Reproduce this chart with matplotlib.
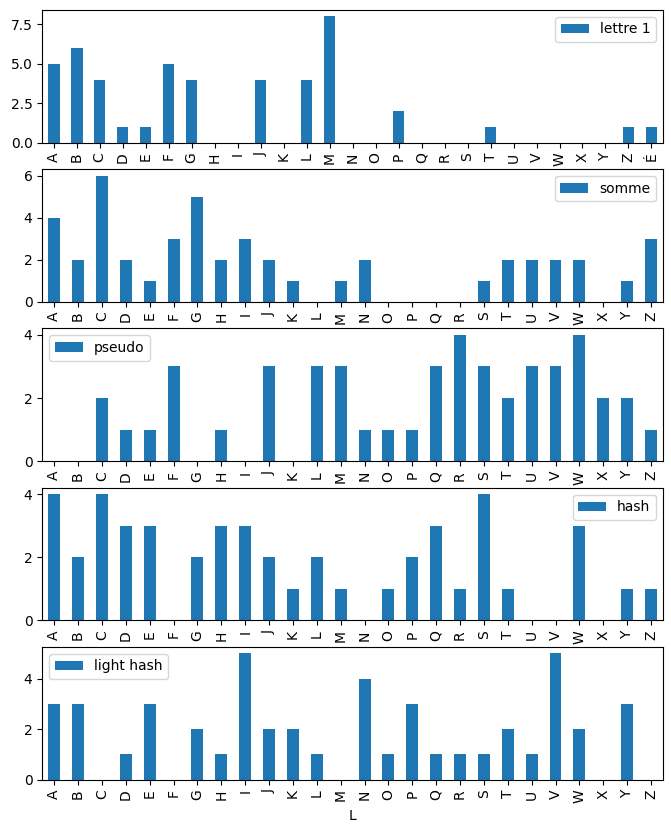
import matplotlib
matplotlib.use("Agg")
import matplotlib.pyplot as plt
import numpy as np

letters = list("ABCDEFGHIJKLMNOPQRSTUVWXYZ")
letters1 = letters + ["É"]

lettre1 = [5, 6, 4, 1, 1, 5, 4, 0, 0, 4, 0, 4, 8, 0, 0, 2, 0, 0, 0, 1, 0, 0, 0, 0, 0, 1, 1]
somme = [4, 2, 6, 2, 1, 3, 5, 2, 3, 2, 1, 0, 1, 2, 0, 0, 0, 0, 1, 2, 2, 2, 2, 0, 1, 3]
pseudo = [0, 0, 2, 1, 1, 3, 0, 1, 0, 3, 0, 3, 3, 1, 1, 1, 3, 4, 3, 2, 3, 3, 4, 2, 2, 1]
hash_ = [4, 2, 4, 3, 3, 0, 2, 3, 3, 2, 1, 2, 1, 0, 1, 2, 3, 1, 4, 1, 0, 0, 3, 0, 1, 1]
light_hash = [3, 3, 0, 1, 3, 0, 2, 1, 5, 2, 2, 1, 0, 4, 1, 3, 1, 1, 1, 2, 1, 5, 2, 0, 3, 0]

panels = [
    (letters1, lettre1, "lettre 1", "upper right"),
    (letters, somme, "somme", "upper right"),
    (letters, pseudo, "pseudo", "upper left"),
    (letters, hash_, "hash", "upper right"),
    (letters, light_hash, "light hash", "upper left"),
]

fig, axes = plt.subplots(5, 1, figsize=(6.71, 8.33), dpi=100)
fig.subplots_adjust(left=0.063, right=0.988, top=0.988, bottom=0.064, hspace=0.2)

for ax, (cats, vals, name, loc) in zip(axes, panels):
    x = np.arange(len(cats))
    ax.bar(x, vals, width=0.5, color="#1f77b4", label=name)
    ax.set_xticks(x)
    ax.set_xticklabels(cats, rotation=90)
    ax.set_xlim(-0.5, len(cats) - 0.5)
    ax.legend(loc=loc)

axes[-1].set_xlabel("L")

fig.savefig("out.png")
